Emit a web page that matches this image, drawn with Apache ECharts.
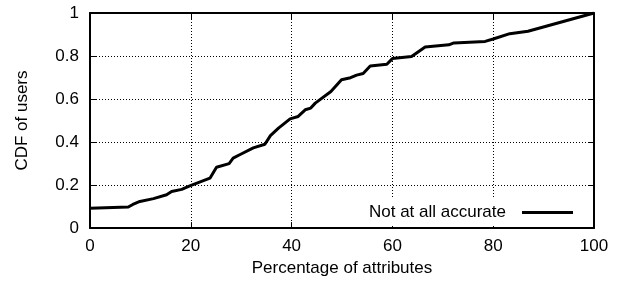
<!DOCTYPE html>
<html><head><meta charset="utf-8">
<script src="https://cdn.jsdelivr.net/npm/echarts@6/dist/echarts.min.js"></script>
<style>html,body{margin:0;padding:0;background:#fff}#c{width:619px;height:282px}</style>
</head><body><div id="c"></div>
<script>
const seriesName = 'Not at all accurate';
const xValues = [0,7.6,8.5,9.9,12.6,15.2,16.2,18.2,19.8,23.8,25.1,27.6,28.4,29.8,32.4,34.7,35.8,37.4,39.7,41.3,42.7,43.8,44.7,47.8,49.9,51.7,52.9,54.2,55.6,58.9,60.0,63.8,66.5,71.2,72.2,78.4,80.0,83.3,86.9,100];
const cdfValues = [0.092,0.098,0.110,0.124,0.137,0.155,0.170,0.180,0.196,0.232,0.283,0.300,0.325,0.342,0.373,0.390,0.430,0.465,0.508,0.519,0.550,0.558,0.581,0.635,0.690,0.699,0.711,0.719,0.754,0.762,0.788,0.798,0.842,0.852,0.861,0.868,0.879,0.904,0.915,1.0];
const xTicks = [0,20,40,60,80,100];
const yTicks = [0,0.2,0.4,0.6,0.8,1];

const font = 'Liberation Sans, Arial, Helvetica, sans-serif';
const chart = echarts.init(document.getElementById('c'), null, {renderer:'canvas'});
const tickStyle = {show:true, inside:true, length:6, lineStyle:{color:'#000', width:1}};
const gridLine = {show:true, lineStyle:{color:'#000', width:1, type:[1,2]}};
const axisLine = {show:true, onZero:false, lineStyle:{color:'#000', width:2}};
chart.setOption({
  animation:false,
  grid:{left:90, right:25, top:13, bottom:52, containLabel:false},
  legend:{
    right:40, bottom:56, align:'right', itemGap:0,
    backgroundColor:'#fff', padding:[5,6,5,6],
    itemWidth:51, itemHeight:3, icon:'rect',
    textStyle:{fontFamily:font, fontSize:17, color:'#000', padding:[0,11,0,0]},
    data:[{name:seriesName, itemStyle:{color:'#000'}}]
  },
  xAxis:[{
    type:'value', min:xTicks[0], max:xTicks[xTicks.length-1], interval:20,
    name:'Percentage of attributes', nameLocation:'middle', nameGap:31,
    nameTextStyle:{fontFamily:font, fontSize:17, color:'#000'},
    axisLine:axisLine, axisTick:tickStyle, splitLine:gridLine,
    axisLabel:{fontFamily:font, fontSize:17, color:'#000', margin:10}
  },{
    type:'value', position:'top', min:xTicks[0], max:xTicks[xTicks.length-1], interval:20,
    axisLine:axisLine, axisTick:tickStyle, splitLine:{show:false}, axisLabel:{show:false}
  }],
  yAxis:[{
    type:'value', min:yTicks[0], max:yTicks[yTicks.length-1], interval:0.2,
    name:'CDF of users', nameLocation:'middle', nameGap:59, nameRotate:90,
    nameTextStyle:{fontFamily:font, fontSize:17, color:'#000'},
    axisLine:axisLine, axisTick:tickStyle, splitLine:gridLine,
    axisLabel:{fontFamily:font, fontSize:17, color:'#000', margin:11,
      formatter:v=>String(Math.round(v*10)/10)}
  },{
    type:'value', position:'right', min:yTicks[0], max:yTicks[yTicks.length-1], interval:0.2,
    axisLine:axisLine, axisTick:tickStyle, splitLine:{show:false}, axisLabel:{show:false}
  }],
  series:[{
    name:seriesName, type:'line', showSymbol:false, symbol:'none',
    lineStyle:{color:'#000', width:3}, itemStyle:{color:'#000'},
    data:xValues.map((x,i)=>[x,cdfValues[i]])
  }]
});
</script></body></html>
